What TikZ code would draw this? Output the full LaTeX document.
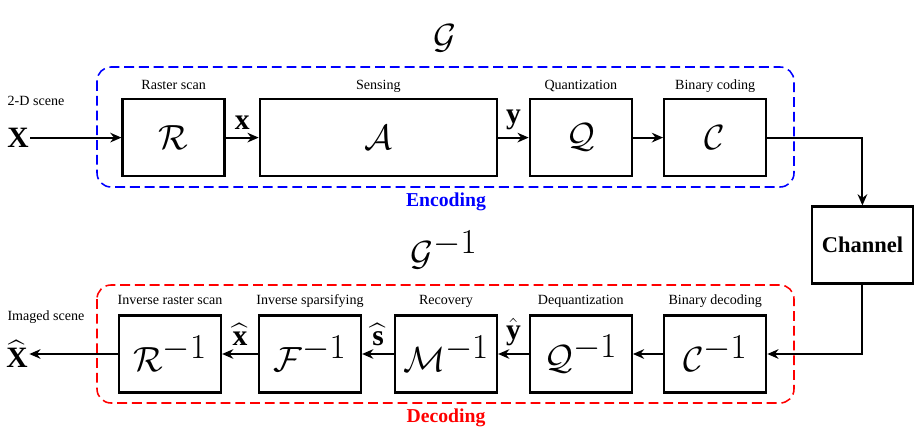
\documentclass[tikz,border=0pt]{standalone}
\usepackage{amsmath}
\usepackage{fontspec}
\setmainfont{Liberation Serif}
\usetikzlibrary{arrows.meta, positioning, calc}

\begin{document}
\begin{tikzpicture}[
    >={Stealth[length=2.8mm, width=2.4mm]},
    font=\fontsize{10}{12}\selectfont,
    block/.style     ={draw, line width=1.6pt, minimum width=2.55cm,
                       minimum height=1.92cm, inner sep=0pt,
                       font=\fontsize{34}{34}\selectfont},
    wideblock/.style ={block, minimum width=5.93cm},
    tag/.style       ={inner sep=1pt, text height=1.6ex, text depth=0.3ex},
    sig/.style       ={font=\fontsize{21}{21}\selectfont\bfseries, inner sep=1pt},
    flow/.style      ={->, line width=1.4pt},
    frame/.style     ={dash pattern=on 7pt off 3.5pt, line width=1.1pt,
                       rounded corners=3.5mm},
    edgelab/.style   ={midway, above, inner xsep=0.5pt, inner ysep=5pt,
                       font=\fontsize{21}{21}\selectfont},
    title/.style     ={font=\fontsize{14}{16}\selectfont\bfseries},
    big/.style       ={font=\fontsize{52}{52}\selectfont}
]
\useasboundingbox (0,0) rectangle (22.875,-10.775);

% Encoder row
\node[block]     (r) at (4.34,-3.44)  {$\mathcal{R}$};
\node[wideblock] (a) at (9.46,-3.44)  {$\mathcal{A}$};
\node[block]     (q) at (14.52,-3.44) {$\mathcal{Q}$};
\node[block]     (c) at (17.88,-3.44) {$\mathcal{C}$};

\node[tag, above=1.3mm of r] {Raster scan};
\node[tag, above=1.3mm of a] {Sensing};
\node[tag, above=1.3mm of q] {Quantization};
\node[tag, above=1.3mm of c] {Binary coding};

% Channel (right side)
\node[block, minimum width=2.52cm, font=\fontsize{16}{18}\selectfont\bfseries]
    (chan) at (21.56,-6.125) {Channel};

% Decoder row
\node[block] (rinv) at (4.25,-8.85)  {$\mathcal{R}^{-1}$};
\node[block] (finv) at (7.75,-8.85)  {$\mathcal{F}^{-1}$};
\node[block] (minv) at (11.15,-8.85) {$\mathcal{M}^{-1}$};
\node[block] (qinv) at (14.52,-8.85) {$\mathcal{Q}^{-1}$};
\node[block] (cinv) at (17.88,-8.85) {$\mathcal{C}^{-1}$};

\node[tag, above=1.5mm of rinv] {Inverse raster scan};
\node[tag, above=1.5mm of finv] {Inverse sparsifying};
\node[tag, above=1.5mm of minv] {Recovery};
\node[tag, above=1.5mm of qinv] {Dequantization};
\node[tag, above=1.5mm of cinv] {Binary decoding};

% Scene in / out
\node[sig] (xin)  at (0.45,-3.44)  {X};
\node[tag] (sin)  at (0.9,-2.525)  {2-D scene};
\node[sig] (xout) at (0.425,-8.85) {$\widehat{\textbf{X}}$};
\node[tag] (sout) at (1.15,-7.9)   {Imaged scene};

% Dashed groups
\draw[frame, blue] (2.425,-1.675) rectangle (19.85,-4.675);
\draw[frame, red]  (2.425,-7.125) rectangle (19.85,-10.075);
\node[title, text=blue] (enc) at (11.15,-5.05)  {Encoding};
\node[title, text=red]  (dec) at (11.15,-10.45) {Decoding};

\node[big] (g)    at (11.12,-0.95) {$\mathcal{G}$};
\node[big] (ginv) at (11.1,-6.25)  {$\mathcal{G}^{-1}$};

% --- Arrows ---
\draw[flow] (xin.east) -- (r.west);
\draw[flow] (r.east) -- (a.west) node[edgelab] {\textbf{x}};
\draw[flow] (a.east) -- (q.west) node[edgelab] {\textbf{y}};
\draw[flow] (q.east) -- (c.west);
\draw[flow] (c.east) -| (chan.north);
\draw[flow] (chan.south) |- (cinv.east);
\draw[flow] (cinv.west) -- (qinv.east);
\draw[flow] (qinv.west) -- (minv.east) node[edgelab] {$\hat{\textbf{y}}$};
\draw[flow] (minv.west) -- (finv.east) node[edgelab] {$\widehat{\textbf{s}}$};
\draw[flow] (finv.west) -- (rinv.east) node[edgelab] {$\widehat{\textbf{x}}$};
\draw[flow] (rinv.west) -- (rinv.west -| xout.east);

\end{tikzpicture}
\end{document}
